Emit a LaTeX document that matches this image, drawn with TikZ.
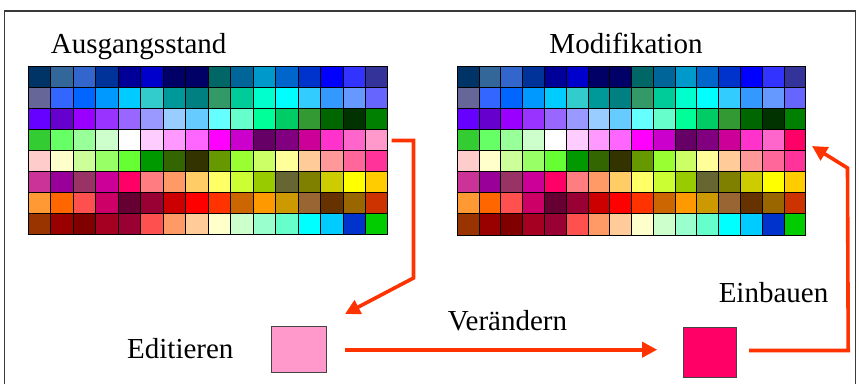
\documentclass[tikz,border=0pt]{standalone}
\usepackage{fontspec}
\setmainfont{Liberation Serif}
\usetikzlibrary{arrows.meta}
\definecolor{arrowred}{HTML}{FF3300}
\definecolor{framegray}{HTML}{3A3A3A}
\definecolor{editpink}{HTML}{FF99CC}
\definecolor{newred}{HTML}{FF0066}
\definecolor{boxedge}{HTML}{444444}
\newcommand\palrows{%
{003366,336699,3366CC,003399,000099,0000CC,000066,000066,006666,006699,0099CC,0066CC,0033CC,0000FF,3333FF,333399},%
{666699,3366FF,0066FF,0099FF,00CCFF,33CCCC,009999,008080,339966,00CC99,00FFCC,00FFFF,33CCFF,3399FF,6699FF,6666FF},%
{6600FF,6600CC,9900FF,9933FF,9966FF,9999FF,99CCFF,66CCFF,66FFFF,66FFCC,00FF99,00CC66,339933,006600,003300,008000},%
{33CC33,66FF66,99FF99,CCFFCC,FFFFFF,FFCCFF,FF99FF,FF66FF,FF00FF,CC00CC,660066,800080,CC0099,FF33CC,FF66CC,FF99CC},%
{FFCCCC,FFFFCC,CCFF99,99FF66,66FF33,009900,336600,333300,669900,99FF33,CCFF66,FFFF99,FFCC99,FF9999,FF6699,FF3399},%
{CC3399,990099,993366,CC0099,FF0066,FF7C80,FF9966,FFCC66,FFFF66,CCFF33,99CC00,666633,808000,CCCC00,FFFF00,FFCC00},%
{FF9933,FF6600,FF5050,CC0066,660033,990033,CC0000,FF0000,FF3300,CC6600,FF9900,CC9900,996633,663300,996600,CC3300},%
{993300,990000,800000,A50021,990033,FF5050,FF9966,FFCC99,FFFFCC,CCFFCC,99FFCC,66FFCC,00FFFF,00CCFF,0033CC,00CC00}}
% #1 x0, #2 y0, #3 cell width, #4 cell height, #5 extra code before grid lines
\newcommand\drawpalette[5]{%
  \foreach \rowlist [count=\r from 0] in \palrows {%
    \foreach \cc [count=\k from 0] in \rowlist {%
      \definecolor{cellc}{HTML}{\cc}%
      \fill[cellc] ({#1+\k*#3},{#2+\r*#4}) rectangle ++(#3,#4);
    }%
  }%
  #5%
  \foreach \k in {0,...,16} \draw[gridline] ({#1+\k*#3},#2) -- ++(0,{8*#4});
  \foreach \r in {0,...,8} \draw[gridline] (#1,{#2+\r*#4}) -- ++({16*#3},0);
}
\begin{document}
\begin{tikzpicture}[x=1pt,y=-1pt,
  gridline/.style={black,line width=1pt,line cap=rect},
  lbl/.style={inner sep=0pt,anchor=base,font=\fontsize{29}{34}\selectfont},
  colorbox/.style={draw=boxedge,line width=1pt,inner sep=0pt},
  arr/.style={arrowred,line width=3.6pt,-{Triangle[length=15pt,width=15pt]}},
  conn/.style={arrowred,line width=3.6pt}]
\useasboundingbox (0,0) rectangle (859,384);
\fill[white] (0,0) rectangle (859,384);
% frame
\draw[framegray,line width=1.5pt] (4.5,384) -- (4.5,11) -- (855.5,11) -- (855.5,384);
% titles
\node[lbl] (tleft) at (138.7,53.3) {Ausgangsstand};
\node[lbl] (tright) at (626,53.3) {Modifikation};
% palettes
\coordinate (gridL) at (28.3,66.7);
\coordinate (gridR) at (457.3,66.7);
\drawpalette{28.3}{66.7}{22.48}{20.95}{}
\drawpalette{457.3}{66.7}{21.79}{21.04}{\fill[newred] ({457.3+15*21.79},{66.7+3*21.04}) rectangle ++(21.79,21.04);}
% colour boxes
\node[colorbox,fill=editpink,minimum width=55pt,minimum height=46pt] (pink) at (299.2,349.7) {};
\node[colorbox,fill=newred,minimum width=53pt,minimum height=50pt] (red) at (710.2,352) {};
% labels
\node[lbl] (edit) at (180.3,358.3) {Editieren};
\node[lbl] (change) at (507.5,330) {Verändern};
\node[lbl] (build) at (773.5,302) {Einbauen};
% connectors
\coordinate (Lout) at (391.5,140.5);
\coordinate (editin) at (345,314);
\coordinate (Rin) at (812,146);
\draw[arr] (Lout) -- (413.5,140.5) -- (413.5,278) -- (editin);
\draw[arr] ([xshift=18pt]pink.east) -- ([xshift=-26pt]red.west |- pink.east);
\draw[arr] ([xshift=12pt,yshift=1.5pt]red.east) -- ++(99,0) -- (847.5,168) -- (Rin);
\end{tikzpicture}
\end{document}
